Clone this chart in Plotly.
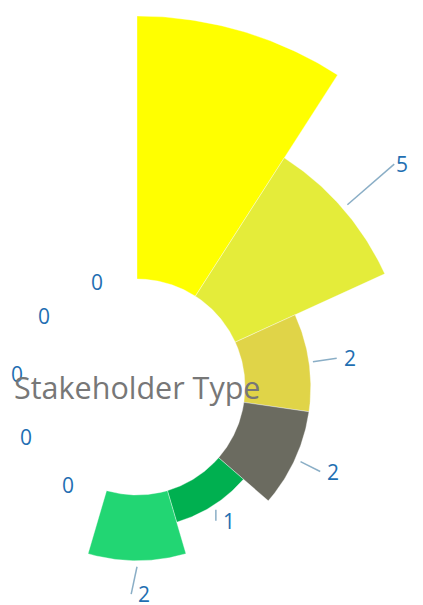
import numpy as np
import plotly.graph_objects as go

# ---- data ----
categories = ["Category 1", "Category 2", "Category 3", "Category 4", "Category 5",
              "Category 6", "Category 7", "Category 8", "Category 9", "Category 10",
              "Category 11"]
values = [8, 5, 2, 2, 1, 2, 0, 0, 0, 0, 0]
colors = ["#FFFF00", "#E4EC3A", "#E0D448", "#6B6B60", "#00B050", "#22D673",
          "#cccccc", "#cccccc", "#cccccc", "#cccccc", "#cccccc"]
title_text = "Stakeholder Type"

# ---- layout constants (pixels, relative to the figure; page has an 8px body margin) ----
W, H = 415, 597
CX, CY = 129, 379          # centre of the rose
R_IN, R_OUT = 108, 371     # hole radius and radius of the max value
# label line tweaks per slice: (gap, length, tilt in degrees, text offset)
label_geom = [(6, 20, 0, 5), (6, 62, 0, 0), (4, 24, 0, 5), (6, 22, 2, 5), (5, 11, 32.7, 5),
              (6, 28, 12, 5), (0, 0, 0, 0), (0, 0, 0, 0), (0, 0, 0, 0), (0, 0, 0, 0),
              (0, 0, 0, 0)]
ZERO_R = 113

vmax = max(values)
n = len(values)
step = 360.0 / n


def rad(v):
    return R_IN + (R_OUT - R_IN) * v / vmax


def pt(r, ang_deg):
    a = np.radians(ang_deg)
    return r * np.sin(a), r * np.cos(a)


fig = go.Figure()
for i, (cat, v, c) in enumerate(zip(categories, values, colors)):
    if v <= 0:
        continue
    a0, a1 = i * step, (i + 1) * step
    angs = np.linspace(a0, a1, 60)
    ro = rad(v)
    xs = list(ro * np.sin(np.radians(angs))) + list(R_IN * np.sin(np.radians(angs[::-1])))
    ys = list(ro * np.cos(np.radians(angs))) + list(R_IN * np.cos(np.radians(angs[::-1])))
    xs.append(xs[0]); ys.append(ys[0])
    fig.add_trace(go.Scatter(x=xs, y=ys, mode="lines", fill="toself", fillcolor=c,
                             line=dict(width=0.6, color="rgba(255,255,255,0.6)"),
                             name=cat, hoverinfo="text", text=f"{cat}: {v}",
                             showlegend=False))

# labels
label_color = "#1F6FB2"
line_color = "#8AAEC6"
for i, v in enumerate(values):
    mid = (i + 0.5) * step
    if v > 0:
        if i == 0:
            continue  # label falls outside the visible canvas
        gap, ln, tilt, off = label_geom[i]
        r0 = rad(v) + gap
        x0, y0 = pt(r0, mid)
        dx, dy = pt(ln, mid + tilt)
        x1, y1 = x0 + dx, y0 + dy
        fig.add_trace(go.Scatter(x=[x0, x1], y=[y0, y1], mode="lines",
                                 line=dict(color=line_color, width=1.5),
                                 hoverinfo="skip", showlegend=False))
        fig.add_annotation(x=x1 + off, y=y1, text=str(v), showarrow=False,
                           xanchor="left", yanchor="middle",
                           font=dict(size=21, color=label_color, family="Open Sans"))
    else:
        x0, y0 = pt(ZERO_R, mid)
        fig.add_annotation(x=x0, y=y0 - 3, text=str(v), showarrow=False,
                           xanchor="right", yanchor="middle",
                           font=dict(size=21, color=label_color, family="Open Sans"))

fig.add_annotation(x=0, y=0, text=title_text, showarrow=False,
                   xanchor="center", yanchor="middle",
                   font=dict(size=30.5, color="#777777", family="Open Sans"))

fig.update_layout(
    width=W, height=H, margin=dict(l=0, r=0, t=0, b=0),
    paper_bgcolor="white", plot_bgcolor="white",
    xaxis=dict(range=[-CX, W - CX], visible=False, fixedrange=True),
    yaxis=dict(range=[-(H - CY), CY], visible=False, fixedrange=True),
    showlegend=False,
)

fig.write_html("out.html")
